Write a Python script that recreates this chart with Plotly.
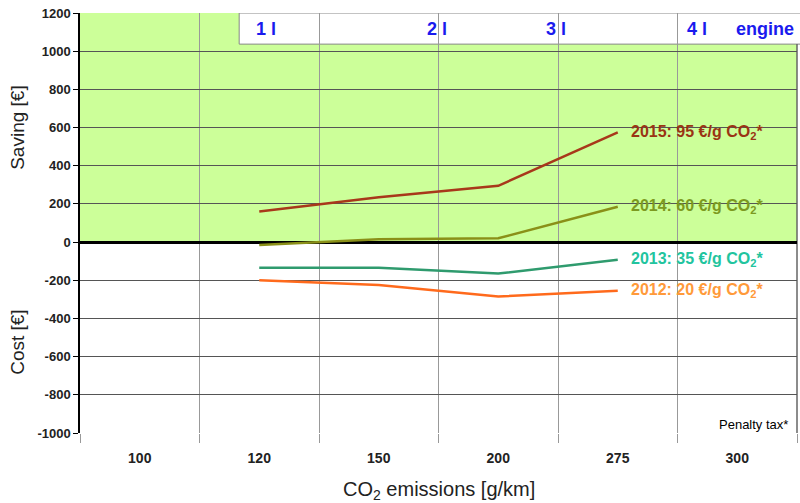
import plotly.graph_objects as go

categories = ["100", "120", "150", "200", "275", "300"]
x_points = ["120", "150", "200", "275"]
s2015 = [160, 235, 295, 575]
s2014 = [-15, 15, 20, 185]
s2013 = [-135, -135, -165, -92]
s2012 = [-200, -225, -285, -255]
series_names = ["2015: 95 €/g CO<sub>2</sub>*", "2014: 60 €/g CO<sub>2</sub>*",
                "2013: 35 €/g CO<sub>2</sub>*", "2012: 20 €/g CO<sub>2</sub>*"]
series_colors = ["#a8381a", "#8a9018", "#2f9b6e", "#ff6a1c"]
label_colors = ["#9a3414", "#7c9a20", "#22c49e", "#ff9a3a"]
engine_labels = ["1 l", "2 l", "3 l", "4 l", "engine"]
engine_pos = [0.260, 0.498, 0.664, 0.860, 0.955]
y_ticks = [1200, 1000, 800, 600, 400, 200, 0, -200, -400, -600, -800, -1000]

FONT = "Arial, Liberation Sans, sans-serif"
fig = go.Figure()

all_series = [s2015, s2014, s2013, s2012]
for name, ys, col in zip(series_names, all_series, series_colors):
    fig.add_trace(go.Scatter(x=x_points, y=ys, mode="lines", name=name,
                             line=dict(color=col, width=2.5), showlegend=False))

last_idx = categories.index(x_points[-1])
for name, ys, col in zip(series_names, all_series, label_colors):
    fig.add_annotation(x=last_idx, y=ys[-1], text="<b>" + name + "</b>",
                       xanchor="left", yanchor="middle", xshift=11, showarrow=False,
                       font=dict(family=FONT, size=16, color=col))

shapes = [
    dict(type="rect", xref="paper", yref="y", x0=0, x1=1, y0=0, y1=1200,
         fillcolor="#ccff99", line=dict(width=0), layer="below"),
    dict(type="rect", xref="paper", yref="y", x0=0.222, x1=1.01, y0=1037, y1=1200,
         fillcolor="white", line=dict(color="#888888", width=1), layer="between"),
    dict(type="line", xref="paper", yref="y", x0=1, x1=1, y0=-1000, y1=1037,
         line=dict(color="#666666", width=1.5), layer="between"),
]
fig.update_layout(shapes=shapes)

for t, px in zip(engine_labels, engine_pos):
    fig.add_annotation(xref="paper", yref="y", x=px, y=1115, text="<b>" + t + "</b>",
                       xanchor="center", yanchor="middle",
                       showarrow=False, font=dict(family=FONT, size=18, color="#1a1aee"))

fig.add_annotation(xref="paper", yref="y", x=0.99, y=-955, text="Penalty tax*",
                   xanchor="right", yanchor="middle", showarrow=False,
                   font=dict(family=FONT, size=13, color="black"))

fig.add_annotation(xref="paper", yref="paper", x=-0.0865, y=0.729, text="Saving [€]",
                   xanchor="center", yanchor="middle",
                   textangle=-90, showarrow=False, font=dict(family=FONT, size=19, color="#222"))
fig.add_annotation(xref="paper", yref="paper", x=-0.0865, y=0.217, text="Cost [€]",
                   xanchor="center", yanchor="middle",
                   textangle=-90, showarrow=False, font=dict(family=FONT, size=19, color="#222"))
fig.add_annotation(xref="paper", yref="paper", x=0.50, y=-0.136,
                   xanchor="center", yanchor="middle",
                   text="CO<sub>2</sub> emissions [g/km]",
                   showarrow=False, font=dict(family=FONT, size=20, color="#222"))

fig.update_layout(
    width=800, height=503,
    margin=dict(l=80, r=3, t=13, b=70),
    paper_bgcolor="white", plot_bgcolor="white",
    font=dict(family=FONT, color="#222"),
    xaxis=dict(type="category", categoryorder="array", categoryarray=categories,
               range=[-0.5, 5.5], tickson="boundaries", ticks="outside", ticklen=9,
               tickcolor="#999999", showgrid=True, gridcolor="#999999", gridwidth=1,
               tickfont=dict(family=FONT, size=14, color="#222", weight="bold"),
               ticklabelstandoff=15,
               showline=False, zeroline=False, automargin=False),
    yaxis=dict(range=[-1000, 1200], tickvals=y_ticks, ticktext=[str(v) for v in y_ticks],
               ticks="outside", ticklen=5,
               tickcolor="black", showgrid=True, gridcolor="#555555", gridwidth=1,
               showline=True, linecolor="black", linewidth=1.5,
               zeroline=True, zerolinecolor="black", zerolinewidth=3,
               tickfont=dict(family=FONT, size=13, color="#222", weight="bold"),
               automargin=False),
)

fig.write_html("out.html", config={"displayModeBar": False},
               post_script="document.body.style.margin='0';")
